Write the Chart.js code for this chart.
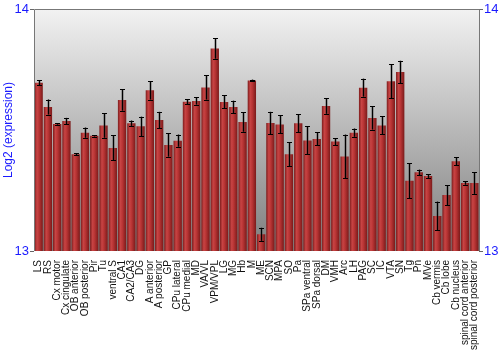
<!DOCTYPE html>
<html>
<head>
<meta charset="utf-8">
<script src="https://cdn.jsdelivr.net/npm/chart.js@4"></script>
<style>
  html, body { margin: 0; padding: 0; background: #fff; }
  #wrap { width: 500px; height: 350px; }
</style>
</head>
<body>
<div id="wrap"><canvas id="chart" width="500" height="350"></canvas></div>
<script>
// Regions (x categories)
const regions = [
    'LS', 'RS', 'Cx motor', 'Cx cingulate', 'OB anterior', 'OB posterior', 'Pir', 'Tu',
    'ventral S', 'CA1', 'CA2/CA3', 'DG', 'A anterior', 'A posterior', 'GP', 'CPu lateral',
    'CPu medial', 'MD', 'VA/VL', 'VPM/VPL', 'LG', 'MG', 'Hb', 'M', 'ME', 'SCN', 'MPA', 'SO',
    'Pa', 'SPa ventral', 'SPa dorsal', 'DM', 'VMH', 'Arc', 'LH', 'PAG', 'SC', 'IC', 'VTA',
    'SN', 'Tg', 'Pn', 'MVe', 'Cb vermis', 'Cb lobe', 'Cb nucleus', 'spinal cord anterior',
    'spinal cord posterior'
];

// Mean log2 expression per region
const expression = [
    13.695, 13.595, 13.525, 13.537, 13.400, 13.489, 13.476, 13.519,
    13.426, 13.624, 13.528, 13.515, 13.664, 13.541, 13.438, 13.456,
    13.617, 13.620, 13.676, 13.837, 13.616, 13.595, 13.533, 13.705, 13.069, 13.529, 13.523, 13.400,
    13.528, 13.457, 13.463, 13.599, 13.452, 13.391, 13.489, 13.675, 13.550, 13.519, 13.701,
    13.740, 13.290, 13.325, 13.310, 13.145, 13.231, 13.371, 13.281,
    13.281
];

// Error (half-length of error bar)
const errors = [
    0.010, 0.031, 0.003, 0.013, 0.004, 0.021, 0.003, 0.051,
    0.052, 0.044, 0.011, 0.040, 0.038, 0.034, 0.048, 0.025,
    0.010, 0.015, 0.050, 0.042, 0.027, 0.026, 0.040, 0.003, 0.027, 0.046, 0.037, 0.049,
    0.038, 0.058, 0.027, 0.032, 0.014, 0.090, 0.017, 0.037, 0.048, 0.037, 0.070,
    0.046, 0.072, 0.011, 0.008, 0.059, 0.041, 0.016, 0.007,
    0.045
];

const yTicks = [13, 14];

const BAR_PCT = 0.9;

// Horizontal shading for each bar, built from the x scale
function barFill(context) {
    const chart = context.chart;
    const xs = chart.scales.x;
    if (!xs || context.dataIndex === undefined) return '#b83232';
    const cx = xs.getPixelForValue(context.dataIndex);
    const w = (xs.width / regions.length) * BAR_PCT;
    if (!isFinite(cx) || !isFinite(w) || w <= 0) return '#b83232';
    const g = chart.ctx.createLinearGradient(cx - w / 2, 0, cx + w / 2, 0);
    g.addColorStop(0, '#7c1c1c');
    g.addColorStop(0.3, '#c84444');
    g.addColorStop(0.55, '#b83434');
    g.addColorStop(1, '#7a1a1a');
    return g;
}

// Grey backdrop behind the plot
const backdrop = {
    id: 'backdrop',
    beforeDatasetsDraw(chart) {
        const { ctx, chartArea: a } = chart;
        const g = ctx.createLinearGradient(0, a.top, 0, a.bottom);
        g.addColorStop(0, '#f2f2f2');
        g.addColorStop(1, '#7e7e7e');
        ctx.save();
        ctx.fillStyle = g;
        ctx.fillRect(a.left, a.top, a.right - a.left, a.bottom - a.top);
        ctx.restore();
    },
    afterDatasetsDraw(chart) {
        const { ctx, chartArea: a } = chart;
        ctx.save();
        ctx.strokeStyle = '#777';
        ctx.lineWidth = 1;
        ctx.beginPath();
        ctx.moveTo(a.left + 0.5, a.bottom);
        ctx.lineTo(a.left + 0.5, a.top + 0.5);
        ctx.lineTo(a.right + 0.5, a.top + 0.5);
        ctx.lineTo(a.right + 0.5, a.bottom);
        ctx.stroke();
        ctx.restore();
    }
};

// Error bars drawn through the y scale
const errorBars = {
    id: 'errorBars',
    afterDatasetsDraw(chart) {
        const { ctx } = chart;
        const ys = chart.scales.y;
        const meta = chart.getDatasetMeta(0);
        ctx.save();
        meta.data.forEach((bar, i) => {
            const x = Math.round(bar.x) + 0.5;
            const hi = ys.getPixelForValue(expression[i] + errors[i]);
            const lo = ys.getPixelForValue(expression[i] - errors[i]);
            ctx.strokeStyle = 'rgba(60,60,60,0.45)';
            ctx.lineWidth = 2.5;
            ctx.beginPath();
            ctx.moveTo(x, hi);
            ctx.lineTo(x, lo);
            ctx.stroke();
            ctx.strokeStyle = '#000';
            ctx.lineWidth = 1;
            ctx.beginPath();
            ctx.moveTo(x, hi);
            ctx.lineTo(x, lo);
            ctx.moveTo(x - 2.5, Math.round(hi) + 0.5);
            ctx.lineTo(x + 2.5, Math.round(hi) + 0.5);
            ctx.moveTo(x - 2.5, Math.round(lo) + 0.5);
            ctx.lineTo(x + 2.5, Math.round(lo) + 0.5);
            ctx.stroke();
        });
        ctx.restore();
    }
};

const blueTicks = {
    color: '#1a1aff',
    font: { family: 'Liberation Sans, Arial, sans-serif', size: 13 },
    padding: 1,
    callback: v => (yTicks.includes(v) ? v : '')
};

new Chart(document.getElementById('chart').getContext('2d'), {
    type: 'bar',
    data: {
        labels: regions,
        datasets: [{
            data: expression,
            backgroundColor: barFill,
            borderWidth: 0,
            barPercentage: BAR_PCT,
            categoryPercentage: 1.0
        }]
    },
    options: {
        responsive: false,
        animation: false,
        layout: { padding: { top: 9, left: 0, right: 0, bottom: 0 } },
        plugins: {
            legend: { display: false },
            tooltip: { enabled: false }
        },
        scales: {
            x: {
                offset: true,
                grid: { display: false },
                border: { display: false },
                ticks: {
                    autoSkip: false,
                    minRotation: 90,
                    maxRotation: 90,
                    padding: 1,
                    color: '#111',
                    font: { family: 'Liberation Sans, Arial, sans-serif', size: 10 }
                },
                afterFit(scale) { scale.height = 99; }
            },
            y: {
                position: 'left',
                min: 13,
                max: 14,
                ticks: { ...blueTicks, stepSize: 1 },
                grid: { drawOnChartArea: false, tickLength: 4, color: '#666' },
                border: { display: false },
                title: {
                    display: true,
                    text: 'Log2 (expression)',
                    color: '#1a1aff',
                    font: { family: 'Liberation Sans, Arial, sans-serif', size: 12 },
                    padding: { top: 1, bottom: 0 }
                },
                afterFit(scale) { scale.width = 34; }
            },
            y2: {
                position: 'right',
                min: 13,
                max: 14,
                ticks: { ...blueTicks, stepSize: 1 },
                grid: { drawOnChartArea: false, tickLength: 4, color: '#666' },
                border: { display: false },
                afterFit(scale) { scale.width = 21; }
            }
        }
    },
    plugins: [backdrop, errorBars]
});
</script>
</body>
</html>
